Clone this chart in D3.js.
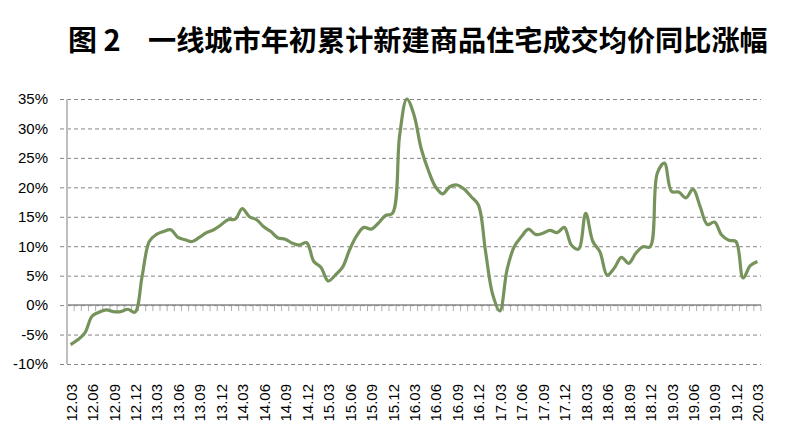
<!DOCTYPE html>
<html>
<head>
<meta charset="utf-8">
<script src="https://cdn.jsdelivr.net/npm/d3@7"></script>
<style>
  body { margin: 0; background: #fff; }
  svg { display: block; }
</style>
</head>
<body>
<div id="chart"></div>
<script>
// title of the figure (figure number + caption)
var figNo = "图 2";
var title = "一线城市年初累计新建商品住宅成交均价同比涨幅";

// months 12.03 .. 20.03 (one point per month)
var months = [];
for (let y = 12; y <= 20; y++) {
    for (let m = 1; m <= 12; m++) {
        if ((y == 12 && m < 3) || (y == 20 && m > 3)) continue;
        months.push(y + "." + (m < 10 ? "0" + m : m));
    }
}

// labels shown on the x axis (every quarter)
var tickLabels = months.filter(function (d, i) { return i % 3 == 0; });

// yoy growth, %
var growth = [
    -6.7, -5.9, -4.7, -1.9, -1.2, -0.8, -1.1, -1.1, -0.7, -1.2,
    4.9, 10.8, 12.0, 12.5, 12.8, 11.5, 11.1, 10.8, 11.5, 12.3,
    12.8, 13.6, 14.5, 14.6, 16.4, 15.0, 14.5, 13.3, 12.5, 11.4,
    11.2, 10.5, 10.2, 10.6, 7.4, 6.4, 4.1, 5.1, 6.4, 9.4,
    11.8, 13.2, 12.9, 13.9, 15.2, 15.6, 28.9, 35.0, 32.3, 26.6,
    22.9, 20.1, 18.9, 20.1, 20.4, 19.7, 18.4, 17.0, 9.1, 1.8,
    -1.0, 6.0, 9.9, 11.6, 12.9, 12.0, 12.2, 12.7, 12.3, 13.2,
    10.2, 9.5, 15.6, 10.8, 9.0, 5.1, 6.3, 8.1, 7.1, 8.8,
    9.9, 9.9, 22.4, 24.1, 19.3, 19.2, 18.2, 19.7, 16.7, 13.7,
    14.1, 11.9, 11.0, 10.8, 4.6, 6.7, 7.4
];

var yTicks = [-10, -5, 0, 5, 10, 15, 20, 25, 30, 35];

var W = 787, H = 433;
var margin = { top: 99, right: 26, bottom: 69, left: 67 };
var width = W - margin.left - margin.right,
    height = H - margin.top - margin.bottom;

var svg = d3.select("#chart").append("svg")
    .attr("width", W)
    .attr("height", H);

// title: figure number, then the caption fitted to the width it has in the picture
var titleFont = "'Noto Sans CJK SC', sans-serif";
svg.append("text")
    .attr("x", 68)
    .attr("y", 51)
    .style("font-family", titleFont)
    .style("font-size", "29px")
    .style("font-weight", "bold")
    .style("fill", "#000")
    .text(figNo);

var cap = svg.append("text")
    .attr("x", 148)
    .attr("y", 51)
    .style("font-family", titleFont)
    .style("font-size", "30px")
    .style("font-weight", "bold")
    .style("fill", "#000")
    .text(title);
var capLen = cap.node().getComputedTextLength();
if (capLen > 620) cap.style("font-size", (30 * 620 / capLen) + "px");

var g = svg.append("g")
    .attr("transform", "translate(" + margin.left + "," + margin.top + ")");

var x = d3.scaleBand().domain(months).range([0, width]);
var y = d3.scaleLinear().domain([-10, 35]).range([height, 0]);

// dashed gridlines + y labels
var yAxis = g.append("g")
    .call(d3.axisLeft(y).tickValues(yTicks).tickSize(-width).tickSizeOuter(0)
        .tickFormat(function (d) { return d + "%"; }));
yAxis.select(".domain").remove();
yAxis.selectAll(".tick line")
    .attr("x1", -7)
    .attr("stroke", "#868686")
    .attr("stroke-dasharray", "4,3");
yAxis.selectAll(".tick text")
    .attr("x", -19)
    .style("font-family", "'Liberation Sans', Arial, sans-serif")
    .style("font-size", "15px")
    .style("fill", "#000");

// zero line with a small tick at every month boundary
var zero = g.append("g").attr("transform", "translate(0," + y(0) + ")");
zero.selectAll("line.mt")
    .data(d3.range(months.length + 1))
    .enter().append("line")
    .attr("class", "mt")
    .attr("x1", function (d) { return d * x.step(); })
    .attr("x2", function (d) { return d * x.step(); })
    .attr("y1", 0)
    .attr("y2", 6)
    .attr("stroke", "#b0b0b0")
    .attr("stroke-width", 1);
zero.append("line")
    .attr("x1", 0).attr("x2", width)
    .attr("stroke", "#868686")
    .attr("stroke-width", 1.5);

// left axis line
g.append("line")
    .attr("x1", 0).attr("x2", 0)
    .attr("y1", 0).attr("y2", height)
    .attr("stroke", "#bfbfbf")
    .attr("stroke-width", 2);

// x labels, rotated
g.selectAll("text.xl")
    .data(tickLabels)
    .enter().append("text")
    .attr("class", "xl")
    .attr("transform", function (d) {
        return "translate(" + (x(d) + x.bandwidth() / 2 + 6) + "," + (height + 20) + ") rotate(-90)";
    })
    .attr("text-anchor", "end")
    .style("font-family", "'Liberation Sans', Arial, sans-serif")
    .style("font-size", "15px")
    .style("fill", "#000")
    .text(function (d) { return d; });

// the line
var line = d3.line()
    .x(function (d, i) { return x(months[i]) + x.bandwidth() / 2; })
    .y(function (d) { return y(d); })
    .curve(d3.curveCatmullRom.alpha(0.5));

g.append("path")
    .datum(growth)
    .attr("d", line)
    .attr("fill", "none")
    .attr("stroke", "#77935c")
    .attr("stroke-width", 3.2)
    .attr("stroke-linejoin", "round");
</script>
</body>
</html>
